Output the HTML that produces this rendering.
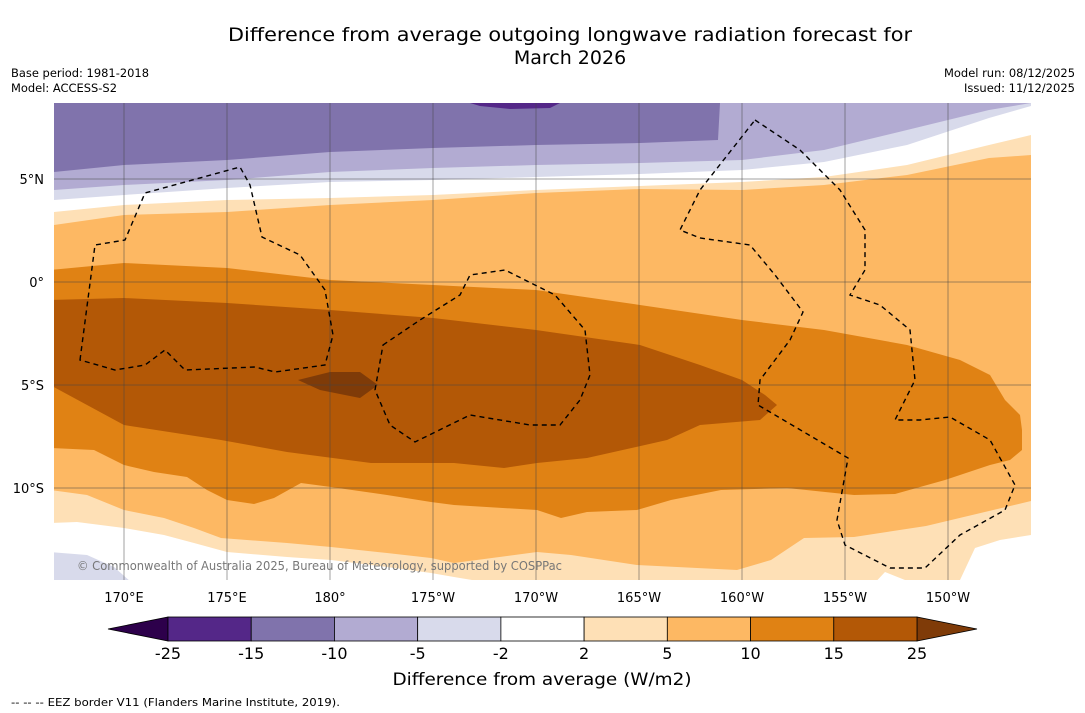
<!DOCTYPE html>
<html><head><meta charset="utf-8">
<style>
body{margin:0;background:#fff;width:1085px;height:713px;overflow:hidden;font-family:"DejaVu Sans","Liberation Sans",sans-serif;}
svg{display:block}
</style></head>
<body>
<svg id="chart" width="1085" height="713" viewBox="0 0 1085 713">
<text x="570" y="41" text-anchor="middle" font-size="19" textLength="684" lengthAdjust="spacingAndGlyphs" fill="#000">Difference from average outgoing longwave radiation forecast for</text>
<text x="570" y="64" text-anchor="middle" font-size="19" fill="#000">March 2026</text>
<text x="11" y="77" font-size="11.5" textLength="138" lengthAdjust="spacingAndGlyphs">Base period: 1981-2018</text>
<text x="11" y="92" font-size="11.5" textLength="106" lengthAdjust="spacingAndGlyphs">Model: ACCESS-S2</text>
<text x="1075" y="77" font-size="11.5" text-anchor="end" textLength="131" lengthAdjust="spacingAndGlyphs">Model run: 08/12/2025</text>
<text x="1075" y="92" font-size="11.5" text-anchor="end" textLength="111" lengthAdjust="spacingAndGlyphs">Issued: 11/12/2025</text>

<defs><clipPath id="mc"><rect x="54" y="103" width="977" height="477"/></clipPath></defs>
<g clip-path="url(#mc)">
<rect x="54" y="103" width="977" height="477" fill="#8073ac"/>
<path fill="#b2abd2" d="M54,172 L124,165 227,160 330,152 433,148 536,145 640,143 718,140 720,103 1040,100 1040,600 54,600Z"/>
<path fill="#d8daeb" d="M54,190 L124,185 227,180 330,172 433,168 536,165 640,163 742,160 824,150 907,130 989,110 1031,103 1040,600 54,600Z"/>
<path fill="#ffffff" d="M54,200 L124,195 227,188 330,182 433,180 536,177 640,174 742,170 824,162 907,145 989,118 1031,106 1040,600 54,600Z"/>
<path fill="#fee0b6" d="M54,212 L124,205 227,200 330,198 433,195 536,190 640,186 742,182 824,177 907,165 989,145 1031,135 1040,600 54,600Z"/>
<path fill="#fdb863" d="M54,225 L124,215 227,212 330,205 433,200 536,193 640,189 742,190 824,185 907,175 989,158 1031,155 1040,600 54,600Z"/>
<path fill="#e08214" d="M50,270 L124,263 227,268 330,280 433,285 536,290 640,305 742,320 824,330 907,345 960,360 990,375 1005,400 1020,415 1022,430 1022,450 1010,460 990,465 945,480 895,494 854,495 787,488 721,490 671,500 637,510 587,512 561,518 537,510 454,505 431,502 387,495 331,487 301,483 274,498 254,504 227,500 207,490 187,477 154,472 124,465 94,450 50,448Z"/>
<path fill="#b35806" d="M50,300 L124,298 227,303 330,310 433,318 536,330 640,345 700,365 742,380 765,395 777,405 760,420 700,425 667,440 587,458 537,463 504,468 454,463 371,463 287,452 221,440 124,425 50,385Z"/>
<path fill="#7f3b08" d="M298,380 L330,372 360,372 378,385 360,398 320,390Z"/>
<path fill="#542788" d="M470,103 L560,103 550,108 510,109 480,106Z"/>
<path fill="#fee0b6" d="M50,490 L87,495 124,510 164,518 194,528 221,538 287,543 331,547 387,553 431,558 454,563 537,552 571,555 637,565 737,570 771,560 804,538 854,537 926,526 1031,501 1040,600 50,600Z"/>
<path fill="#ffffff" d="M50,523 L77,522 124,528 164,535 194,543 227,552 287,557 331,560 387,567 431,573 454,577 520,588 870,588 885,572 905,580 960,580 975,548 1000,540 1031,535 1040,600 50,600Z"/>
<path fill="#d8daeb" d="M50,552 L87,555 114,567 131,582 50,585Z"/>
<g id="grid" stroke="#444" stroke-width="0.5" fill="none"></g>
<g fill="none" stroke="#000" stroke-width="1.4" stroke-dasharray="5,4">
<path d="M80,360 L95,245 125,240 145,193 240,167 250,185 262,237 300,255 325,290 333,335 325,365 275,372 255,367 185,370 165,350 145,365 115,370Z"/>
<path d="M383,345 L420,320 460,295 470,275 505,270 555,295 585,330 590,375 580,400 560,425 530,425 470,415 415,442 390,425 375,390Z"/>
<path d="M755,120 L800,150 840,190 865,230 865,270 850,295 880,305 910,330 915,380 895,420 920,420 950,417 990,440 1015,485 1005,510 960,535 925,568 890,568 845,545 837,520 848,458 758,405 760,380 790,340 803,312 775,275 750,245 700,238 680,230 700,190Z"/>
</g>
<text x="77" y="570" font-size="12" fill="#777" textLength="485" lengthAdjust="spacingAndGlyphs">© Commonwealth of Australia 2025, Bureau of Meteorology, supported by COSPPac</text>
</g>
<g id="axes" font-size="13" fill="#000"></g>
<g id="cbar"></g>
<text x="542" y="685" text-anchor="middle" font-size="17" textLength="299" lengthAdjust="spacingAndGlyphs">Difference from average (W/m2)</text>
<text x="11" y="706" font-size="11" textLength="329" lengthAdjust="spacingAndGlyphs">--  --  -- EEZ border V11 (Flanders Marine Institute, 2019).</text>
</svg>
<script>
const lonTicks=[170,175,180,185,190,195,200,205,210];
const lonLabels=["170°E","175°E","180°","175°W","170°W","165°W","160°W","155°W","150°W"];
const latTicks=[5,0,-5,-10];
const latLabels=["5°N","0°","5°S","10°S"];
const levels=["-25","-15","-10","-5","-2","2","5","10","15","25"];
const colors=["#542788","#8073ac","#b2abd2","#d8daeb","#ffffff","#fee0b6","#fdb863","#e08214","#b35806"];
const lowColor="#2d004b", highColor="#7f3b08";
const NS="http://www.w3.org/2000/svg";
const xLon=l=>330+(l-180)*20.6;
const yLat=l=>282-l*20.6;
function mk(t,a,p){const e=document.createElementNS(NS,t);for(const k in a)e.setAttribute(k,a[k]);p.appendChild(e);return e;}
const grid=document.getElementById('grid'),axes=document.getElementById('axes'),cb=document.getElementById('cbar');
lonTicks.forEach((l,i)=>{
 const ln=mk('line',{x1:xLon(l),x2:xLon(l),y1:103,y2:580},grid);
 
 
 const t=mk('text',{x:xLon(l),y:602,'text-anchor':'middle'},axes);t.textContent=lonLabels[i];
 
 
});
latTicks.forEach((l,i)=>{
 const ln=mk('line',{x1:54,x2:1031,y1:yLat(l),y2:yLat(l)},grid);
 
 
 const t=mk('text',{x:44,y:yLat(l)+5,'text-anchor':'end'},axes);t.textContent=latLabels[i];
 
 
});
const x0=168,x1=917,y0=617,h=24,w=(x1-x0)/colors.length;
const lt=mk('polygon',{points:`108,${y0+h/2} ${x0},${y0} ${x0},${y0+h}`,fill:lowColor,stroke:'#000','stroke-width':0.8},cb);


const rt=mk('polygon',{points:`977,${y0+h/2} ${x1},${y0} ${x1},${y0+h}`,fill:highColor,stroke:'#000','stroke-width':0.8},cb);


colors.forEach((c,i)=>{
 const r=mk('rect',{x:x0+i*w,y:y0,width:w,height:h,fill:c,stroke:'#000','stroke-width':0.8},cb);
 
 
});
levels.forEach((v,i)=>{
 const t=mk('text',{x:x0+i*w,y:659,'text-anchor':'middle','font-size':16},cb);t.textContent=v;
 
 
});
</script>
</body></html>
